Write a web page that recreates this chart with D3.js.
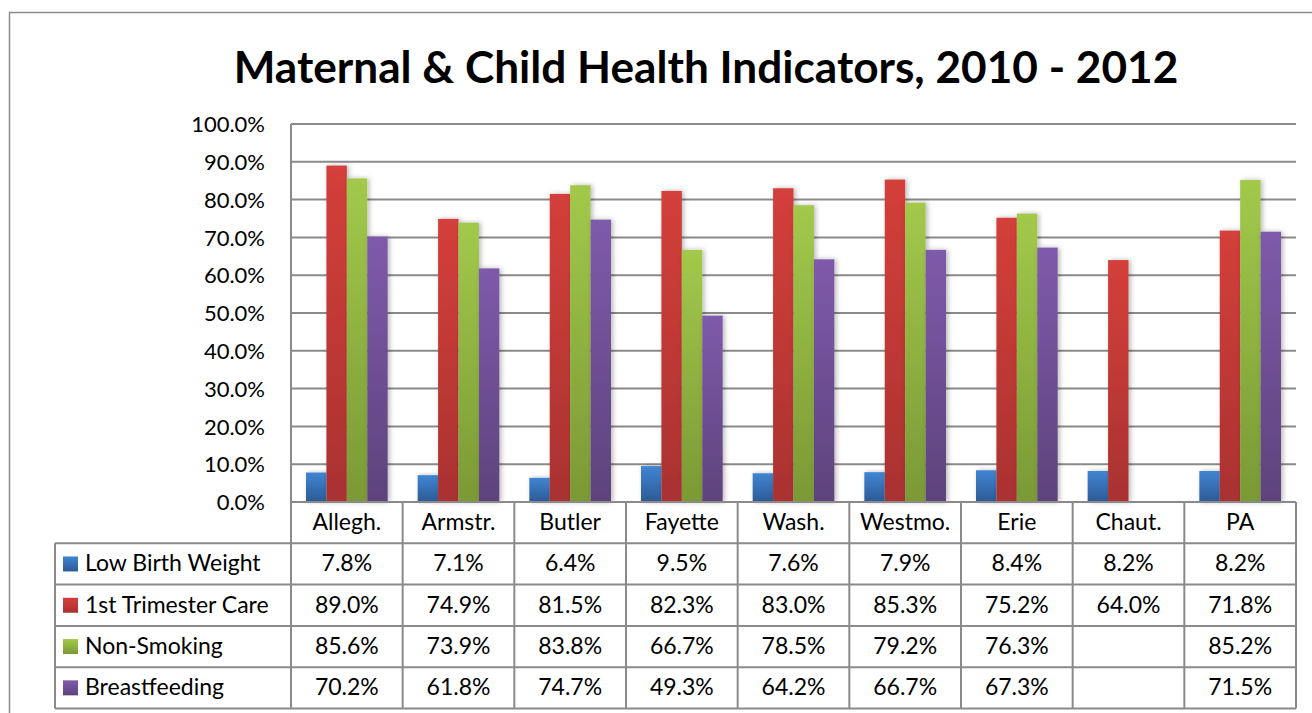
<!DOCTYPE html>
<html>
<head>
<meta charset="utf-8">
<script src="https://cdn.jsdelivr.net/npm/d3@7"></script>
<style>
  html, body { margin: 0; padding: 0; background: #fff; }
  svg { display: block; font-family: Lato, "Open Sans", sans-serif; }
</style>
</head>
<body>
<svg id="chart" width="1312" height="713"></svg>
<script>
// chart data
const categories = ["Allegh.", "Armstr.", "Butler", "Fayette", "Wash.", "Westmo.", "Erie", "Chaut.", "PA"];
const seriesNames = ["Low Birth Weight", "1st Trimester Care", "Non-Smoking", "Breastfeeding"];
const lowBirthWeight = [0.078, 0.071, 0.064, 0.095, 0.076, 0.079, 0.084, 0.082, 0.082];
const firstTrimester = [0.890, 0.749, 0.815, 0.823, 0.830, 0.853, 0.752, 0.640, 0.718];
const nonSmoking = [0.856, 0.739, 0.838, 0.667, 0.785, 0.792, 0.763, null, 0.852];
const breastfeeding = [0.702, 0.618, 0.747, 0.493, 0.642, 0.667, 0.673, null, 0.715];
const yTicks = [0, 0.1, 0.2, 0.3, 0.4, 0.5, 0.6, 0.7, 0.8, 0.9, 1.0];

const seriesValues = [lowBirthWeight, firstTrimester, nonSmoking, breastfeeding];
const colors = [
  { top: "#4085d3", bottom: "#2c5a95" },
  { top: "#d43f3a", bottom: "#a93230" },
  { top: "#a2c94b", bottom: "#7a9935" },
  { top: "#7f5aab", bottom: "#5d437c" }
];

const svg = d3.select("#chart");
const gridColor = "#8a8a8a";
const m = { left: 291, right: 1296, top: 124, bottom: 502 };
const rowH = 41.3;
const tableLeft = 55;

const defs = svg.append("defs");
colors.forEach((c, i) => {
  const g = defs.append("linearGradient").attr("id", "grad" + i)
    .attr("x1", 0).attr("y1", 0).attr("x2", 0).attr("y2", 1);
  g.append("stop").attr("offset", "0%").attr("stop-color", c.top);
  g.append("stop").attr("offset", "100%").attr("stop-color", c.bottom);
});
const shadow = defs.append("filter").attr("id", "shadow")
  .attr("x", "-50%").attr("y", "-10%").attr("width", "200%").attr("height", "120%");
shadow.append("feDropShadow").attr("dx", 2).attr("dy", 0).attr("stdDeviation", 2.5)
  .attr("flood-color", "#000").attr("flood-opacity", 0.28);

// outer frame
svg.append("rect").attr("x", 9.5).attr("y", 12.5).attr("width", 1320).attr("height", 720)
  .attr("fill", "none").attr("stroke", "#8c8c8c").attr("stroke-width", 1.5);

// scales
const x = d3.scaleBand().domain(categories).range([m.left, m.right]);
const x1 = d3.scaleBand().domain(d3.range(seriesNames.length)).range([15, x.bandwidth() - 15]);
const y = d3.scaleLinear().domain([0, 1]).range([m.bottom, m.top]);

// title
const title = svg.append("text").attr("x", 706).attr("y", 83)
  .attr("text-anchor", "middle").attr("font-weight", 700).attr("font-size", 42)
  .attr("fill", "#000").text("Maternal & Child Health Indicators, 2010 - 2012");
const tw = title.node().getComputedTextLength();
title.attr("font-size", 42 * 945 / tw);

// gridlines
svg.append("g").selectAll("line").data(yTicks.filter(t => t > 0)).join("line")
  .attr("x1", m.left).attr("x2", m.right)
  .attr("y1", d => y(d)).attr("y2", d => y(d))
  .attr("stroke", gridColor).attr("stroke-width", 2);

// y axis labels
const yAxis = d3.axisLeft(y).tickValues(yTicks).tickFormat(d3.format(".1%")).tickSize(0).tickPadding(26);
const ya = svg.append("g").attr("transform", `translate(${m.left},0)`).call(yAxis);
ya.select(".domain").remove();
ya.selectAll("text").attr("font-size", 22).attr("fill", "#000")
  .attr("font-family", "Lato, 'Open Sans', sans-serif").attr("dy", "0.35em");

// bars
const groups = svg.append("g").selectAll("g").data(categories).join("g")
  .attr("transform", d => `translate(${x(d)},0)`);
groups.selectAll("rect")
  .data((c, ci) => seriesValues.map((vals, si) => ({ si, v: vals[ci] })).filter(d => d.v != null))
  .join("rect")
  .attr("x", d => x1(d.si)).attr("width", x1.bandwidth())
  .attr("y", d => y(d.v)).attr("height", d => y(0) - y(d.v))
  .attr("fill", d => `url(#grad${d.si})`).attr("filter", "url(#shadow)");

// left axis line
svg.append("line").attr("x1", m.left).attr("x2", m.left).attr("y1", m.top).attr("y2", m.bottom)
  .attr("stroke", gridColor).attr("stroke-width", 2);

// data table
const tbl = svg.append("g").attr("stroke", gridColor).attr("stroke-width", 2);
const tableBottom = m.bottom + rowH * 5;
// horizontal lines
tbl.append("line").attr("x1", m.left).attr("x2", m.right).attr("y1", m.bottom).attr("y2", m.bottom);
d3.range(1, 6).forEach(r => {
  tbl.append("line").attr("x1", tableLeft).attr("x2", m.right)
    .attr("y1", m.bottom + r * rowH).attr("y2", m.bottom + r * rowH);
});
// vertical lines
tbl.append("line").attr("x1", tableLeft).attr("x2", tableLeft).attr("y1", m.bottom + rowH).attr("y2", tableBottom);
categories.forEach(c => {
  tbl.append("line").attr("x1", x(c)).attr("x2", x(c)).attr("y1", m.bottom).attr("y2", tableBottom);
});
tbl.append("line").attr("x1", m.right).attr("x2", m.right).attr("y1", m.bottom).attr("y2", tableBottom);

const tf = d3.format(".1%");
const textG = svg.append("g").attr("font-size", 23).attr("fill", "#000");
textG.selectAll("text.cat").data(categories).join("text").attr("class", "cat")
  .attr("x", d => x(d) + x.bandwidth() / 2).attr("y", m.bottom + 28)
  .attr("text-anchor", "middle").text(d => d);

seriesNames.forEach((name, si) => {
  const rowTop = m.bottom + rowH * (si + 1);
  svg.append("rect").attr("x", 63).attr("y", rowTop + rowH / 2 - 7.5)
    .attr("width", 15).attr("height", 15).attr("fill", `url(#grad${si})`);
  textG.append("text").attr("x", 85).attr("y", rowTop + 28).text(name);
  textG.append("g").selectAll("text").data(categories).join("text")
    .attr("x", d => x(d) + x.bandwidth() / 2).attr("y", rowTop + 28)
    .attr("text-anchor", "middle")
    .text((d, ci) => seriesValues[si][ci] == null ? "" : tf(seriesValues[si][ci]));
});
</script>
</body>
</html>
